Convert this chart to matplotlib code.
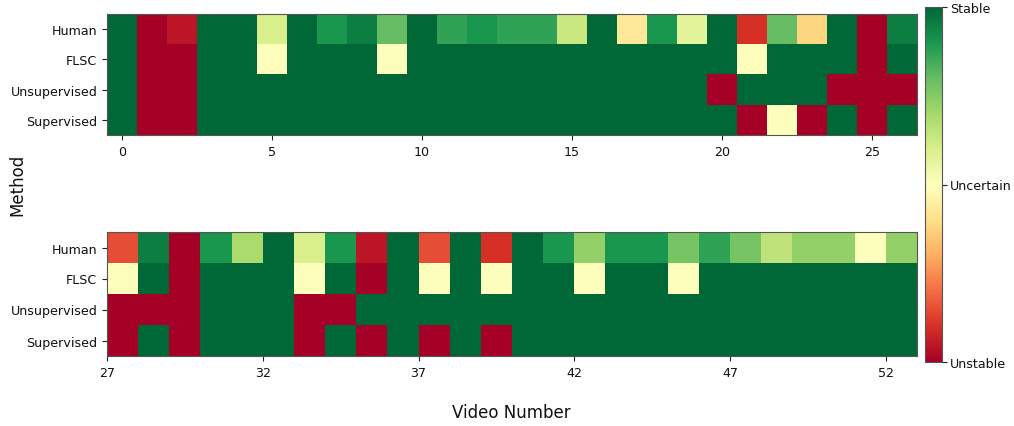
import numpy as np
import matplotlib
matplotlib.use("Agg")
import matplotlib.pyplot as plt

methods = ["Human", "FLSC", "Unsupervised", "Supervised"]

# Videos 0-26
videos_a = list(range(0, 27))
human_a = [1.0, 0.0, 0.05, 1.0, 1.0, 0.6, 1.0, 0.9, 0.95, 0.8,
           1.0, 0.87, 0.9, 0.87, 0.87, 0.63, 1.0, 0.43, 0.9, 0.57,
           1.0, 0.1, 0.8, 0.38, 1.0, 0.0, 0.95]
flsc_a = [1, 0, 0, 1, 1, 0.5, 1, 1, 1, 0.5,
          1, 1, 1, 1, 1, 1, 1, 1, 1, 1,
          1, 0.5, 1, 1, 1, 0, 1]
unsup_a = [1, 0, 0, 1, 1, 1, 1, 1, 1, 1,
           1, 1, 1, 1, 1, 1, 1, 1, 1, 1,
           0, 1, 1, 1, 0, 0, 0]
sup_a = [1, 0, 0, 1, 1, 1, 1, 1, 1, 1,
         1, 1, 1, 1, 1, 1, 1, 1, 1, 1,
         1, 0, 0.5, 0, 1, 0, 1]

# Videos 27-52
videos_b = list(range(27, 53))
human_b = [0.15, 0.95, 0.0, 0.9, 0.69, 1.0, 0.6, 0.9, 0.05, 1.0,
           0.15, 1.0, 0.1, 1.0, 0.9, 0.73, 0.9, 0.9, 0.77, 0.87,
           0.77, 0.65, 0.73, 0.73, 0.5, 0.73]
flsc_b = [0.5, 1, 0, 1, 1, 1, 0.5, 1, 0, 1,
          0.5, 1, 0.5, 1, 1, 0.5, 1, 1, 0.5, 1,
          1, 1, 1, 1, 1, 1]
unsup_b = [0, 0, 0, 1, 1, 1, 0, 0, 1, 1,
           1, 1, 1, 1, 1, 1, 1, 1, 1, 1,
           1, 1, 1, 1, 1, 1]
sup_b = [0, 1, 0, 1, 1, 1, 0, 1, 0, 1,
         0, 1, 0, 1, 1, 1, 1, 1, 1, 1,
         1, 1, 1, 1, 1, 1]

cbar_ticks = [0.0, 0.5, 1.0]
cbar_labels = ["Unstable", "Uncertain", "Stable"]

W, H = 1014, 427
fig = plt.figure(figsize=(W / 100, H / 100), dpi=100)

def box(x0, y0, x1, y1):
    return [x0 / W, 1 - y1 / H, (x1 - x0) / W, (y1 - y0) / H]

cmap = plt.get_cmap("RdYlGn")
tick_fs = 9.1
label_fs = 12

ax1 = fig.add_axes(box(107, 15, 917, 136))
grid_a = np.array([human_a, flsc_a, unsup_a, sup_a])
im = ax1.imshow(grid_a, cmap=cmap, vmin=0, vmax=1, aspect="auto",
                extent=[videos_a[0] - 0.5, videos_a[-1] + 0.5, len(methods) - 0.5, -0.5])
ax1.set_xticks(videos_a[::5])
ax1.set_yticks(range(len(methods)))
ax1.set_yticklabels(methods)

ax2 = fig.add_axes(box(107, 233, 917, 357))
grid_b = np.array([human_b, flsc_b, unsup_b, sup_b])
ax2.imshow(grid_b, cmap=cmap, vmin=0, vmax=1, aspect="auto",
           extent=[videos_b[0], videos_b[-1] + 1, len(methods) - 0.5, -0.5])
ax2.set_xticks(videos_b[::5])
ax2.set_yticks(range(len(methods)))
ax2.set_yticklabels(methods)

for ax in (ax1, ax2):
    ax.tick_params(labelsize=tick_fs, colors="#222222", labelcolor="#111111")
    for s in ax.spines.values():
        s.set_color("#555555")

cax = fig.add_axes(box(925, 8, 942, 363))
cb = fig.colorbar(im, cax=cax, ticks=cbar_ticks)
cb.ax.set_yticklabels(cbar_labels)
cb.ax.tick_params(labelsize=tick_fs, colors="#222222", labelcolor="#111111", pad=2.5)
cb.outline.set_edgecolor("#555555")

fig.text(511 / W, 1 - 413 / H, "Video Number", ha="center", va="center",
         fontsize=label_fs, color="#111111")
fig.text(17 / W, 1 - 185 / H, "Method", ha="center", va="center",
         rotation=90, fontsize=label_fs, color="#111111")

fig.savefig("out.png", dpi=100)
